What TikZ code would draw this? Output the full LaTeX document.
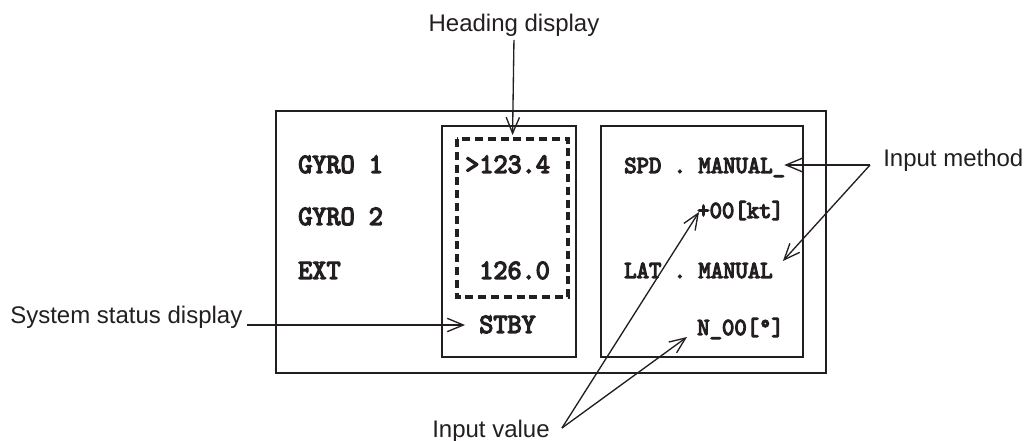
\documentclass[tikz,border=0pt]{standalone}
\usepackage{fontspec}
\setmainfont{Liberation Sans}
\newfontfamily\panelfont[Extension=.otf, FakeStretch=0.96, FakeBold=4.5]{lmmono10-regular}
\usepackage{tikz}
\usetikzlibrary{positioning}
\usetikzlibrary{calc,arrows.meta}

\definecolor{ink}{RGB}{35,31,32}

\tikzset{
	panel/.style={draw=ink, line width=1.3pt},
	housing/.style={draw=ink, line width=1.7pt},
	headframe/.style={draw=ink, line width=2.6pt, dash pattern=on 6pt off 3.6pt},
	readout/.style={text=ink, inner sep=0pt, anchor=base west,
		font={\panelfont\fontsize{21pt}{24pt}\selectfont}},
	smallreadout/.style={readout,
		font={\panelfont\fontsize{18.4pt}{22pt}\selectfont}},
	caption/.style={text=ink, inner sep=0pt,
		font={\fontsize{18pt}{21pt}\selectfont}},
	callout/.style={draw=ink, line width=1pt,
		-{Straight Barb[length=12pt,width=10pt]}},
}

\begin{document}
\begin{tikzpicture}[x=0.75pt,y=-0.75pt]
	\useasboundingbox (0,0) rectangle (1024,441);
	
	% ---------------------
	% Housing & panels
	\draw[housing] (276,111) rectangle (826,373);
	\draw[panel] (442,126) rectangle (576,357);
	\draw[panel] (601,126) rectangle (803,357);
	
	\path (457,139) coordinate (FrameNW);
	\path (568,297) coordinate (FrameSE);
	\draw[headframe] (FrameNW) rectangle (FrameSE);
	\coordinate (FrameTop) at ($(FrameNW)!0.5!(FrameNW -| FrameSE)$);
	
	% ---------------------
	% Readouts
	\node[readout] (GyroOne) at (298,173) {GYRO 1};
	\node[readout] (GyroTwo) at (298,225) {GYRO 2};
	\node[readout] (Ext)     at (298,279) {EXT};
	
	\node[readout] (HdgMain) at (465,173) {>123.4};
	\node[readout] (HdgAux)  at (479,279) {126.0};
	\node[readout] (Stby)    at (479,333) {STBY};
	
	\node[smallreadout] (SpdLine) at (624,173) {SPD . MANUAL\_};
	\node[smallreadout] (KtValue) at (697,218) {+00[kt]};
	\node[smallreadout] (LatLine) at (624,278) {LAT . MANUAL};
	\node[smallreadout] (NValue)  at (697,335) {N\_00[°]};
	
	% ---------------------
	% Captions
	\node[caption, anchor=base] (HeadingLabel) at (514,32) {Heading display};
	\node[caption, anchor=base west] (SystemLabel) at (10,324) {System status display};
	\node[caption, anchor=base west] (MethodLabel) at (883,167) {Input method};
	\node[caption, anchor=base west] (ValueLabel) at (432,437) {Input value};
	
	% ------------------------------------------------
	% Callout ends
	\path (Stby.base west)        +(-14,-8)  coordinate (StbyTip);
	\path (MethodLabel.base west) +(-13,-2)  coordinate (MethodFork);
	\path (SpdLine.base east)     +(-1,-8)   coordinate (SpdTip);
	\path (LatLine.base east)     +(10,-17)  coordinate (LatTip);
	\path (ValueLabel.base east)  +(12,-9)   coordinate (ValueFork);
	\path (KtValue.base west)     +(2,-6)    coordinate (KtTip);
	\path (NValue.base west)      +(-10,2)   coordinate (NTip);
	
	% ------------------------------------------------
	% Callouts
	\draw[callout, shorten <=2pt, shorten >=3pt] (HeadingLabel.south) -- (FrameTop);
	\draw[callout, shorten <=3pt] (SystemLabel.east |- StbyTip) -- (StbyTip);
	
	\draw[callout] (MethodFork) -- (SpdTip);
	\draw[callout] (MethodFork) -- (LatTip);
	
	\draw[callout] (ValueFork) -- (KtTip);
	\draw[callout] (ValueFork) -- (NTip);
	
\end{tikzpicture}
\end{document}
